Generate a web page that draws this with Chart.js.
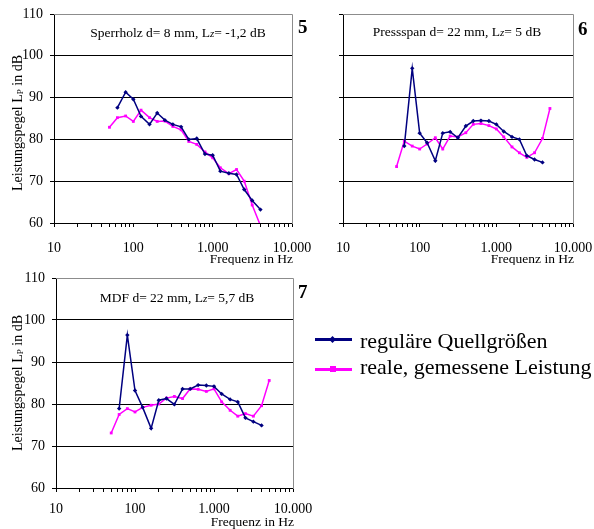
<!DOCTYPE html>
<html lang="de">

<head>
    <meta charset="UTF-8">
    <title>Leistungspegel – Quellgrößen</title>
    <script src="https://cdn.jsdelivr.net/npm/chart.js"></script>
    <style>
        body { margin: 0; background: #fff; }
        #wrap {
            position: relative; width: 594px; height: 529px; overflow: hidden;
            font-family: 'Liberation Serif', 'Times New Roman', serif; color: #000;
        }
        canvas { position: absolute; }
        .num { position: absolute; font-size: 19px; line-height: 19px; font-weight: bold; }
        .leg { position: absolute; left: 360px; font-size: 22px; line-height: 22px; white-space: nowrap; }
        .legline { position: absolute; left: 315px; width: 37px; height: 3px; }
        .mark { position: absolute; }
    </style>
</head>

<body>
    <div id="wrap">
        <canvas id="c1" width="320" height="265" style="left:0;top:0"></canvas>
        <canvas id="c2" width="294" height="265" style="left:300px;top:0"></canvas>
        <canvas id="c3" width="320" height="264" style="left:0;top:265px"></canvas>

        <div class="num" style="left:298px;top:17px">5</div>
        <div class="num" style="left:578px;top:19px">6</div>
        <div class="num" style="left:298px;top:282px">7</div>

        <div class="legline" style="top:338px;background:#000080"></div>
        <div class="mark" style="left:330px;top:337px;width:5px;height:5px;background:#000080;transform:rotate(45deg)"></div>
        <div class="leg" style="top:330px">reguläre Quellgrößen</div>

        <div class="legline" style="top:368px;background:#ff00ff"></div>
        <div class="mark" style="left:330px;top:366px;width:6px;height:6px;background:#ff00ff"></div>
        <div class="leg" style="top:356px">reale, gemessene Leistung</div>
    </div>

    <script>
        // third-octave band centre frequencies (Hz)
        const freqs = [50, 63, 80, 100, 125, 160, 200, 250, 315, 400, 500, 630, 800, 1000, 1250, 1600, 2000, 2500, 3150, 4000, 5000];

        // 5: Sperrholz d= 8 mm
        const sperrRegular = [null, 87.6, 91.3, 89.6, 85.5, 83.6, 86.3, 84.6, 83.6, 83.0, 80.0, 80.2, 76.5, 76.2, 72.4, 71.9, 71.6, 68.0, 65.4, 63.2, null];
        const sperrReal = [82.9, 85.2, 85.6, 84.3, 87.0, 85.2, 84.3, 84.4, 83.1, 82.3, 79.5, 78.8, 77.0, 75.6, 73.2, 71.8, 72.8, 70.0, 64.3, 59.4, null];

        // 6: Pressspan d= 22 mm
        const pressRegular = [null, 78.4, 97.0, 81.5, 79.2, 74.9, 81.5, 81.8, 80.4, 83.2, 84.4, 84.5, 84.4, 83.6, 81.9, 80.6, 80.0, 76.1, 75.2, 74.5, null];
        const pressReal = [73.5, 79.6, 78.4, 77.7, 78.9, 80.4, 77.7, 80.8, 80.6, 81.6, 83.6, 83.8, 83.3, 82.5, 80.6, 78.2, 76.8, 75.7, 76.8, 80.2, 87.4];

        // 7: MDF d= 22 mm
        const mdfRegular = [null, 78.9, 96.4, 83.2, 79.2, 74.2, 80.9, 81.3, 79.9, 83.6, 83.6, 84.5, 84.4, 84.2, 82.4, 81.1, 80.5, 76.7, 75.8, 74.9, null];
        const mdfReal = [73.1, 77.5, 78.9, 78.1, 79.2, 79.7, 80.0, 81.4, 81.8, 81.3, 83.6, 83.5, 83.0, 83.6, 80.5, 78.5, 77.1, 77.7, 77.1, 79.6, 85.6];

        // axis ticks
        const xTicks = [10, 20, 30, 40, 50, 60, 70, 80, 90, 100, 200, 300, 400, 500, 600, 700, 800, 900,
            1000, 2000, 3000, 4000, 5000, 6000, 7000, 8000, 9000, 10000];
        const xTickLabels = { 10: '10', 100: '100', 1000: '1.000', 10000: '10.000' };

        const FONT = "'Liberation Serif', 'Times New Roman', serif";
        Chart.defaults.font.family = FONT;
        Chart.defaults.color = '#000';

        function toPoints(vals) {
            return freqs.map((f, i) => ({ x: f, y: vals[i] }));
        }

        // draw a row of text pieces (with small / subscript parts)
        function drawRuns(ctx, runs, x, y, align) {
            let total = 0;
            runs.forEach(r => {
                ctx.font = (r.italic ? 'italic ' : '') + r.size + 'px ' + FONT;
                r.w = ctx.measureText(r.t).width;
                total += r.w;
            });
            let cx = align === 'center' ? x - total / 2 : (align === 'right' ? x - total : x);
            runs.forEach(r => {
                ctx.font = (r.italic ? 'italic ' : '') + r.size + 'px ' + FONT;
                ctx.fillText(r.t, cx, y + (r.dy || 0));
                cx += r.w;
            });
        }

        const decoPlugin = {
            id: 'deco',
            beforeDatasetsDraw(chart) {
                const { ctx, chartArea: a } = chart;
                const r = Math.round(a.right) + 0.5, t = Math.round(a.top) + 0.5;
                ctx.save();
                ctx.strokeStyle = '#8c8c8c';
                ctx.lineWidth = 1;
                ctx.beginPath();
                ctx.moveTo(a.left, t);
                ctx.lineTo(r, t);
                ctx.lineTo(r, a.bottom + 1);
                ctx.stroke();
                ctx.restore();
            },
            afterDraw(chart, args, opts) {
                const { ctx, chartArea: a } = chart;
                ctx.save();
                ctx.fillStyle = '#000';
                ctx.textBaseline = 'middle';
                // panel title
                drawRuns(ctx, opts.title, opts.titleX, a.top + opts.titleDy, 'center');
                // x axis title
                drawRuns(ctx, [{ t: 'Frequenz in Hz', size: 13.5 }], a.right + 1, a.bottom + opts.xTitleDy, 'right');
                // y axis title
                if (opts.yTitle) {
                    ctx.translate(18, opts.yTitleY);
                    ctx.rotate(-Math.PI / 2);
                    drawRuns(ctx, [
                        { t: 'Leistungspegel L', size: 14 },
                        { t: 'P', size: 9, dy: 3 },
                        { t: ' in dB', size: 14 }
                    ], 0, 0, 'center');
                }
                ctx.restore();
            }
        };

        function makeChart(id, regular, real, box, deco) {
            return new Chart(document.getElementById(id), {
                type: 'line',
                data: {
                    datasets: [{
                        label: 'reguläre Quellgrößen',
                        data: toPoints(regular),
                        borderColor: '#000080',
                        backgroundColor: '#000080',
                        borderWidth: 1.5,
                        pointStyle: 'rectRot',
                        pointRadius: 2.2,
                        pointBorderWidth: 0,
                        tension: 0
                    }, {
                        label: 'reale, gemessene Leistung',
                        data: toPoints(real),
                        borderColor: '#ff00ff',
                        backgroundColor: '#ff00ff',
                        borderWidth: 1.5,
                        pointStyle: 'rect',
                        pointRadius: 2,
                        pointBorderWidth: 0,
                        tension: 0
                    }]
                },
                options: {
                    responsive: false,
                    animation: false,
                    devicePixelRatio: 1,
                    layout: { padding: { left: 0, top: box.top, right: box.right, bottom: 0 } },
                    plugins: {
                        legend: { display: false },
                        tooltip: { enabled: false },
                        deco: deco
                    },
                    scales: {
                        x: {
                            type: 'logarithmic',
                            min: 10,
                            max: 10000,
                            afterBuildTicks: s => { s.ticks = xTicks.map(v => ({ value: v })); },
                            afterFit: s => { s.height = box.xh; s.paddingLeft = 0; s.paddingRight = 0; },
                            grid: { drawOnChartArea: false, tickLength: 4, color: '#000' },
                            border: { color: '#000', width: 1 },
                            ticks: {
                                autoSkip: false,
                                maxRotation: 0,
                                padding: box.xpad,
                                font: { size: 14 },
                                callback: v => xTickLabels[v] || ''
                            }
                        },
                        y: {
                            min: 60,
                            max: 110,
                            afterFit: s => { s.width = box.yw; s.paddingTop = 0; s.paddingBottom = 0; },
                            grid: {
                                tickLength: 4,
                                color: c => (c.tick && c.tick.value === 110) ? '#8c8c8c' : '#000',
                                tickColor: '#000'
                            },
                            border: { color: '#000', width: 1 },
                            ticks: {
                                stepSize: 10,
                                padding: 7,
                                font: { size: 14 },
                                callback: v => box.yLabels ? String(v) : ''
                            }
                        }
                    }
                },
                plugins: [decoPlugin]
            });
        }

        makeChart('c1', sperrRegular, sperrReal,
            { top: 14, right: 28, yw: 54, xh: 42, xpad: 13, yLabels: true },
            {
                title: [{ t: 'Sperrholz d= 8 mm, L', size: 13.5 }, { t: 'z', size: 11, italic: true, dy: 1 }, { t: '= -1,2 dB', size: 13.5 }],
                titleX: 178, titleDy: 19, xTitleDy: 36, yTitle: true, yTitleY: 123
            });

        makeChart('c2', pressRegular, pressReal,
            { top: 14, right: 21, yw: 43, xh: 42, xpad: 13, yLabels: false },
            {
                title: [{ t: 'Pressspan d= 22 mm, L', size: 13.5 }, { t: 'z', size: 11, italic: true, dy: 1 }, { t: '= 5 dB', size: 13.5 }],
                titleX: 157, titleDy: 18, xTitleDy: 36, yTitle: false
            });

        makeChart('c3', mdfRegular, mdfReal,
            { top: 13, right: 27, yw: 56, xh: 41, xpad: 9, yLabels: true },
            {
                title: [{ t: 'MDF d= 22 mm, L', size: 13.5 }, { t: 'z', size: 11, italic: true, dy: 1 }, { t: '= 5,7 dB', size: 13.5 }],
                titleX: 177, titleDy: 20, xTitleDy: 34, yTitle: true, yTitleY: 383 - 265
            });
    </script>
</body>

</html>
